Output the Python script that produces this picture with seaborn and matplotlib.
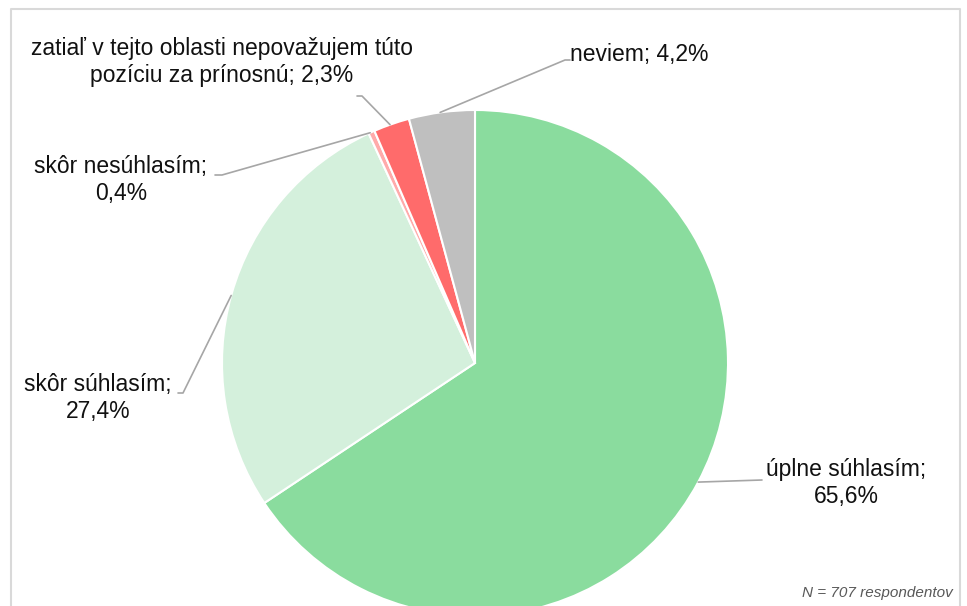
import numpy as np
import matplotlib.pyplot as plt
import seaborn as sns

sns.set_theme(style="white")
plt.rcParams['font.family'] = ['Liberation Sans', 'DejaVu Sans']

# data
labels = ["úplne súhlasím", "skôr súhlasím", "skôr nesúhlasím",
          "zatiaľ v tejto oblasti nepovažujem túto\npozíciu za prínosnú", "neviem"]
values = [65.6, 27.4, 0.4, 2.3, 4.2]
colors = ["#8ADC9E", "#D4F0DC", "#FFAAAA", "#FF6B6B", "#BFBFBF"]
n_resp = 707

W, H = 967, 606
fig = plt.figure(figsize=(W / 100, H / 100), dpi=100)
ax = fig.add_axes([0, 0, 1, 1])

def Y(y):
    return H - y

cx, cy, r = 475, 363, 253
ax.pie(values, colors=colors, startangle=90, counterclock=False,
       center=(cx, Y(cy)), radius=r, frame=True,
       wedgeprops=dict(edgecolor="white", linewidth=1.5))
ax.set_xlim(0, W)
ax.set_ylim(0, H)
ax.axis("off")

# label text positions (px) and elbow points (px)
text_pos = [(846, 483, "center"), (98, 398, "center"), (121, 180, "center"),
            (222, 62, "center"), (570, 55, "left")]
elbows = [[(762, 480)], [(183, 393), (178, 393)], [(222, 175), (215, 175)],
          [(362, 96), (357, 96)], [(565, 60), (570, 60)]]

cum = np.cumsum([0] + values)
for i, (lab, v) in enumerate(zip(labels, values)):
    mid = (cum[i] + cum[i + 1]) / 2 / 100.0
    ang = np.deg2rad(90 - mid * 360)
    ax_pt = (cx + r * np.cos(ang), cy - r * np.sin(ang))
    pts = [ax_pt] + elbows[i]
    ax.plot([p[0] for p in pts], [Y(p[1]) for p in pts], color="#A6A6A6", lw=1.2)
    tx, ty, ha = text_pos[i]
    pct = f"{v:.1f}".replace(".", ",") + "%"
    if i in (3, 4):
        txt = f"{lab}; {pct}"
    else:
        txt = f"{lab};\n{pct}"
    ax.text(tx, Y(ty), txt, ha=ha, va="center", fontsize=16.5, color="#111111",
            linespacing=1.2, multialignment="center")

ax.text(953, Y(593), f"N = {n_resp} respondentov", ha="right", va="center",
        fontsize=11, style="italic", color="#595959")

# chart frame
ax.plot([11, 11, 960, 960], [Y(H + 5), Y(9), Y(9), Y(H + 5)], color="#D9D9D9", lw=1.5,
        clip_on=False)

fig.savefig("out.png", dpi=100)
